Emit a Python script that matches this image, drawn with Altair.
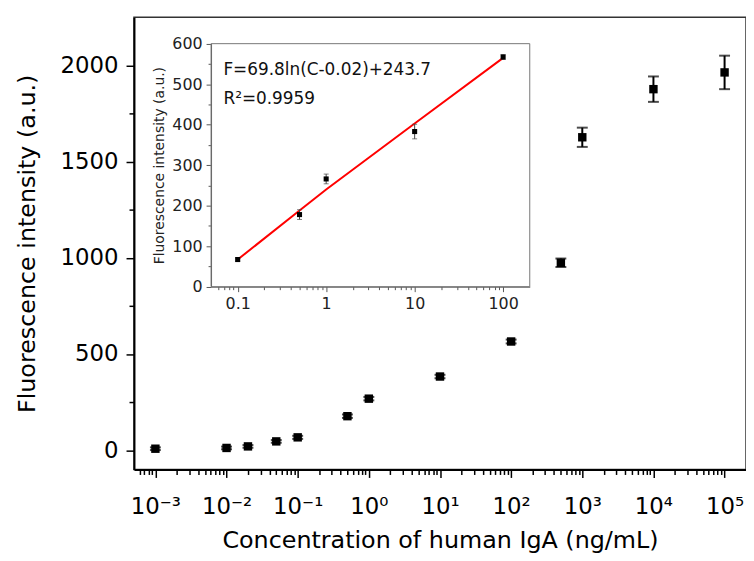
import json
import altair as alt
import pandas as pd

# ---------------- data ----------------
conc = [0.001, 0.01, 0.02, 0.05, 0.1, 0.5, 1, 10, 100, 500, 1000, 10000, 100000]
intensity = [8, 12, 20, 46, 67, 177, 268, 383, 565, 974, 1626, 1876, 1963]
err = [7, 7, 7, 7, 8, 9, 9, 9, 10, 22, 50, 66, 87]

inset_conc = [0.1, 0.5, 1, 10, 100]
inset_int = [67, 178, 266, 383, 567]
inset_err = [4, 12, 12, 18, 6]

fit_conc = [0.1, 0.5, 1, 10, 100]
fit_int = [67, 188, 240, 403, 565]

x_major = [0.001, 0.01, 0.1, 1, 10, 100, 1000, 10000, 100000]
x_major_labels = ["10⁻³", "10⁻²", "10⁻¹", "10⁰", "10¹", "10²", "10³", "10⁴", "10⁵"]
x_minor = [m * 10.0 ** e for e in range(-4, 5) for m in range(2, 10)
           if 5.5e-4 < m * 10.0 ** e < 1.9e5]
y_major = [0, 500, 1000, 1500, 2000]
y_minor = [250, 750, 1250, 1750]

ix_major = [0.1, 1, 10, 100]
ix_minor = [m * 10.0 ** e for e in range(-2, 3) for m in range(2, 10)
            if 0.055 < m * 10.0 ** e < 190]
iy_major = [0, 100, 200, 300, 400, 500, 600]
iy_minor = [50, 150, 250, 350, 450, 550]

eq_text = ["F=69.8ln(C-0.02)+243.7", "R²=0.9959"]
eq_x = [0.069, 0.069]
eq_y = [523, 452]

main_x_domain = [5e-4, 2e5]
main_y_domain = [-100, 2250]
inset_x_domain = [0.05, 200]
inset_y_domain = [0, 600]

# ---------------- layout ----------------
W, H = 617, 456
INSET_L, INSET_R, INSET_T, INSET_B = 77.7, 399.0, 26.7, 271.7
FONT = "DejaVu Sans"

main_df = pd.DataFrame({
    "conc": conc, "intensity": intensity,
    "lo": [v - e for v, e in zip(intensity, err)],
    "hi": [v + e for v, e in zip(intensity, err)],
})
inset_df = pd.DataFrame({
    "conc": inset_conc, "intensity": inset_int,
    "lo": [v - e for v, e in zip(inset_int, inset_err)],
    "hi": [v + e for v, e in zip(inset_int, inset_err)],
})
fit_df = pd.DataFrame({"conc": fit_conc, "intensity": fit_int})
text_df = pd.DataFrame({"conc": eq_x, "intensity": eq_y, "label": eq_text})
frame_df = pd.DataFrame({"x0": [inset_x_domain[0]], "x1": [inset_x_domain[1]],
                         "y0": [inset_y_domain[0]], "y1": [inset_y_domain[1]]})


def is_major(vals):
    return f"indexof({json.dumps(vals)}, datum.value) >= 0"


xm = json.dumps(x_major)
xl = json.dumps(x_major_labels, ensure_ascii=False)

main_x_axis = alt.Axis(
    values=x_major + x_minor,
    labelExpr=f"indexof({xm}, datum.value) >= 0 ? {xl}[indexof({xm}, datum.value)] : ''",
    tickSize={"condition": {"test": is_major(x_major), "value": 8}, "value": 5},
    tickWidth=1.5, tickColor="#000", domainColor="#000", domainWidth=2,
    labelFont=FONT, labelFontSize=23, labelColor="#000", labelPadding=18,
    labelOverlap=False, labelFlush=False, grid=False,
    titleFont=FONT, titleFontSize=24, titleFontWeight="normal", titleColor="#000",
    titlePadding=11,
)
main_y_axis = alt.Axis(
    values=y_major + y_minor, format="d",
    labelExpr=f"{is_major(y_major)} ? datum.label : ''",
    tickSize={"condition": {"test": is_major(y_major), "value": 8}, "value": 5},
    tickWidth=1.5, tickColor="#000", domainColor="#000", domainWidth=2,
    labelFont=FONT, labelFontSize=23, labelColor="#000", labelPadding=8,
    labelOverlap=False, grid=False,
    titleFont=FONT, titleFontSize=24, titleFontWeight="normal", titleColor="#000",
    titlePadding=21,
)

inset_x_axis = alt.Axis(
    values=ix_major + ix_minor, orient="bottom", offset=INSET_B - H,
    labelExpr=f"{is_major(ix_major)} ? datum.label : ''", format="~g",
    tickSize={"condition": {"test": is_major(ix_major), "value": 5}, "value": 3},
    tickWidth=1, tickColor="#555", domainColor="#555", domainWidth=1,
    labelFont=FONT, labelFontSize=16, labelColor="#222", labelPadding=4,
    labelOverlap=False, labelFlush=False, grid=False, title=None,
)
inset_y_axis = alt.Axis(
    values=iy_major + iy_minor, orient="left", offset=-INSET_L,
    labelExpr=f"{is_major(iy_major)} ? datum.label : ''",
    tickSize={"condition": {"test": is_major(iy_major), "value": 5}, "value": 3},
    tickWidth=1, tickColor="#555", domainColor="#555", domainWidth=1,
    labelFont=FONT, labelFontSize=16, labelColor="#222", labelPadding=4,
    labelOverlap=False, labelFlush=False, grid=False,
    titleFont=FONT, titleFontSize=14, titleFontWeight="normal", titleColor="#222",
    titlePadding=5,
)

main_xs = alt.Scale(type="log", domain=main_x_domain, nice=False)
main_ys = alt.Scale(domain=main_y_domain, nice=False, zero=False)
inset_xs = alt.Scale(type="log", domain=inset_x_domain, nice=False, range=[INSET_L, INSET_R])
inset_ys = alt.Scale(domain=inset_y_domain, nice=False, zero=False, range=[INSET_B, INSET_T])

MX = alt.X("conc:Q", scale=main_xs, axis=main_x_axis, title="Concentration of human IgA (ng/mL)")
MY_T = "Fluorescence intensity (a.u.)"

mbase = alt.Chart(main_df).encode(x=MX)
m_rule = mbase.mark_rule(color="#000", strokeWidth=2).encode(
    y=alt.Y("lo:Q", scale=main_ys, axis=main_y_axis, title=MY_T), y2="hi:Q")
m_cap_lo = mbase.mark_tick(orient="horizontal", color="#000", size=11, thickness=2).encode(
    y=alt.Y("lo:Q", scale=main_ys, axis=main_y_axis, title=MY_T))
m_cap_hi = mbase.mark_tick(orient="horizontal", color="#000", size=11, thickness=2).encode(
    y=alt.Y("hi:Q", scale=main_ys, axis=main_y_axis, title=MY_T))
m_pts = mbase.mark_square(color="#000", size=72, opacity=1).encode(
    y=alt.Y("intensity:Q", scale=main_ys, axis=main_y_axis, title=MY_T))
main_layer = alt.layer(m_rule, m_cap_lo, m_cap_hi, m_pts)

IX = alt.X("conc:Q", scale=inset_xs, axis=inset_x_axis, title=None)
IY_T = "Fluorescence intensity (a.u.)"


def iy(field):
    return alt.Y(field, scale=inset_ys, axis=inset_y_axis, title=IY_T)


i_frame = alt.Chart(frame_df).mark_rect(filled=False, stroke="#777", strokeWidth=1).encode(
    x=alt.X("x0:Q", scale=inset_xs, axis=inset_x_axis, title=None), x2="x1:Q",
    y=iy("y0:Q"), y2="y1:Q")
i_fit = alt.Chart(fit_df).mark_line(color="#ff0000", strokeWidth=2).encode(
    x=IX, y=iy("intensity:Q"))
ibase = alt.Chart(inset_df).encode(x=IX)
i_rule = ibase.mark_rule(color="#444", strokeWidth=1).encode(y=iy("lo:Q"), y2="hi:Q")
i_cap_lo = ibase.mark_tick(orient="horizontal", color="#444", size=5, thickness=1).encode(y=iy("lo:Q"))
i_cap_hi = ibase.mark_tick(orient="horizontal", color="#444", size=5, thickness=1).encode(y=iy("hi:Q"))
i_pts = ibase.mark_square(color="#000", size=26, opacity=1).encode(y=iy("intensity:Q"))
i_text = alt.Chart(text_df).mark_text(
    align="left", baseline="alphabetic", font=FONT, fontSize=17, color="#111").encode(
    x=IX, y=iy("intensity:Q"), text="label:N")
inset_layer = alt.layer(i_frame, i_fit, i_rule, i_cap_lo, i_cap_hi, i_pts, i_text)

chart = alt.layer(main_layer, inset_layer).resolve_scale(
    x="independent", y="independent"
).properties(
    width=W, height=H,
    autosize=alt.AutoSizeParams(type="none"),
    padding={"left": 127, "top": 7, "right": 0, "bottom": 90},
).configure_view(stroke="#333", strokeWidth=1.5)

chart.save("out.html", embed_options={"renderer": "svg", "actions": False})
